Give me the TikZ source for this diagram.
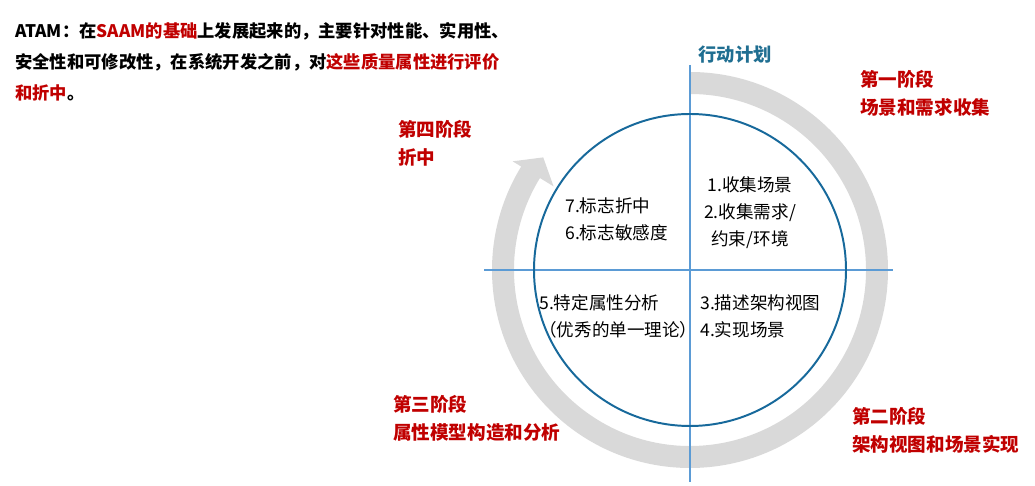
\documentclass[tikz,border=0pt]{standalone}
\usepackage{fontspec}
\setmainfont{Noto Sans CJK SC}
\usepackage{xcolor}
\usetikzlibrary{positioning, calc}
\definecolor{phasered}{RGB}{192,0,0}
\definecolor{plantitle}{RGB}{31,110,145}
\definecolor{circleblue}{RGB}{23,105,155}
\definecolor{axisblue}{RGB}{91,155,213}
\definecolor{ringgray}{RGB}{217,217,217}
\begin{document}
\begin{tikzpicture}[
    x=0.025cm, y=0.025cm,
    font=\fontsize{13}{19}\selectfont,
    intro/.style={anchor=west, align=left, inner sep=0pt, font=\fontsize{12.3}{22}\selectfont\bfseries},
    phase/.style={anchor=west, align=left, inner sep=0pt, text=phasered, font=\fontsize{13.2}{20}\selectfont\bfseries},
    steptext/.style={inner sep=0pt, font=\fontsize{12.5}{19.2}\selectfont},
    axis/.style={draw=axisblue, line width=1.4pt},
]
\useasboundingbox (0,0) rectangle (1035,486);

% Centre of the cycle
\coordinate (c) at (690,216);

% Grey ring with arrow head
\fill[ringgray] ($(c)+(90:198)$) arc[start angle=90, end angle=-211.5, radius=198]
    -- ($(c)+(148.5:208)$) -- ($(c)+(142.5:185)$) -- ($(c)+(148.5:160)$)
    -- ($(c)+(148.5:176)$) arc[start angle=-211.5, end angle=90, radius=176] -- cycle;

% Axes
\draw[axis] (690,421) -- (690,4);
\draw[axis] (484,216) -- (893,216);

% Circle
\draw[circleblue, line width=1.4pt] (c) circle[radius=156];

% Intro text
\node[intro] (intro) at (15,424) {ATAM：在\textcolor{phasered}{SAAM的基础}上发展起来的，主要针对性能、实用性、\\
    安全性和可修改性，在系统开发之前，对\textcolor{phasered}{这些质量属性进行评价}\\
    \textcolor{phasered}{和折中}。};

% Axis title
\node[inner sep=0pt, text=plantitle, font=\fontsize{13}{16}\selectfont\bfseries] (plan) at (735,431) {行动计划};

% Phases
\node[phase] (phase1) at (860,393) {第一阶段\\场景和需求收集};
\node[phase] (phase2) at (852,55.5) {第二阶段\\架构视图和场景实现};
\node[phase] (phase3) at (393,67.5) {第三阶段\\属性模型构造和分析};
\node[phase] (phase4) at (398,342.5) {第四阶段\\折中};

% Steps in the quadrants
\node[steptext, align=center] (q1) at (750,273) {1.收集场景\\2.收集需求/\\约束/环境};
\node[steptext, align=left, anchor=west] (q2) at (565,267) {7.标志折中\\6.标志敏感度};
\node[steptext, align=left, anchor=west] (q3) at (539,169.5) {5.特定属性分析\\（优秀的单一理论）};
\node[steptext, align=left, anchor=west] (q4) at (700,169.5) {3.描述架构视图\\4.实现场景};

\end{tikzpicture}
\end{document}
